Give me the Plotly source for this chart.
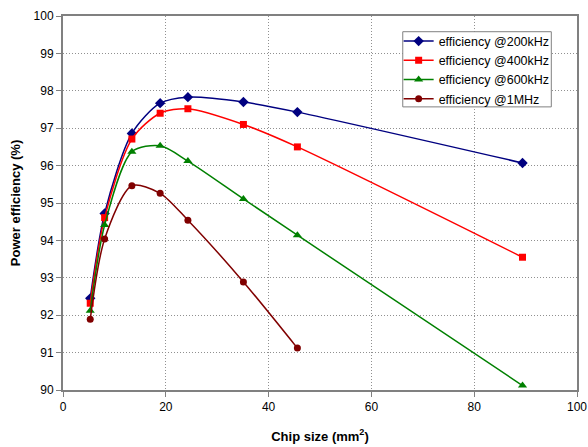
import plotly.graph_objects as go

chip_size = [5.3, 8.1, 13.4, 18.9, 24.3, 35.1, 45.6, 89.4]
chip_size_1mhz = [5.3, 8.1, 13.4, 18.9, 24.3, 35.1, 45.6]

eff_200k = [92.45, 94.72, 96.86, 97.67, 97.83, 97.70, 97.43, 96.07]
eff_400k = [92.32, 94.61, 96.71, 97.40, 97.52, 97.10, 96.50, 93.55]
eff_600k = [92.12, 94.41, 96.37, 96.53, 96.12, 95.11, 94.14, 90.12]
eff_1m = [91.89, 94.04, 95.46, 95.26, 94.54, 92.89, 91.12]

series = [
    ("efficiency @200kHz", chip_size, eff_200k, "#000080", "diamond", 8),
    ("efficiency @400kHz", chip_size, eff_400k, "#FF0000", "square", 7),
    ("efficiency @600kHz", chip_size, eff_600k, "#008000", "triangle-up", 8),
    ("efficiency @1MHz", chip_size_1mhz, eff_1m, "#800000", "circle", 7),
]

fig = go.Figure()
for name, xs, ys, color, sym, sz in series:
    fig.add_trace(go.Scatter(
        x=xs, y=ys, name=name, mode="lines+markers",
        line=dict(color=color, width=1.5, shape="spline", smoothing=0.8),
        marker=dict(symbol=sym, size=sz, color=color),
    ))

# legend frame drawn as a shape to match the reference box
fig.add_shape(
    type="rect", xref="paper", yref="paper",
    x0=0.661, x1=0.950, y0=0.757, y1=0.958,
    line=dict(color="#808080", width=1), fillcolor="white", layer="above",
)

font = "Liberation Sans, Arial, sans-serif"
fig.update_layout(
    width=588, height=447,
    margin=dict(l=63, r=11, t=16, b=57),
    paper_bgcolor="white", plot_bgcolor="white",
    font=dict(family=font, size=12, color="black"),
    showlegend=True,
    legend=dict(
        x=0.653, y=0.972, xanchor="left", yanchor="top",
        borderwidth=0, bgcolor="rgba(0,0,0,0)",
        font=dict(size=12.5), tracegroupgap=0, itemwidth=30,
    ),
    xaxis=dict(
        range=[0, 100], tickvals=[0, 20, 40, 60, 80, 100], automargin=False,
        showgrid=True, gridcolor="#909090", griddash="1px,2px", gridwidth=1,
        showline=True, linecolor="#808080", linewidth=2, mirror=True,
        ticks="outside", ticklen=5, tickcolor="#808080", zeroline=False,
        title=dict(text="<b>Chip size (mm<sup>2</sup>)</b>", font=dict(size=13), standoff=18),
    ),
    yaxis=dict(
        range=[90, 100], dtick=1, automargin=False,
        showgrid=True, gridcolor="#909090", griddash="1px,2px", gridwidth=1,
        showline=True, linecolor="#808080", linewidth=2, mirror=True,
        ticks="outside", ticklen=5, tickcolor="#808080", zeroline=False,
        title=dict(text="<b>Power efficiency (%)</b>", font=dict(size=13), standoff=10),
    ),
)

fig.write_html(
    "out.html",
    config={"displayModeBar": False},
    post_script="document.body.style.margin='0';document.body.style.overflow='hidden';",
)
